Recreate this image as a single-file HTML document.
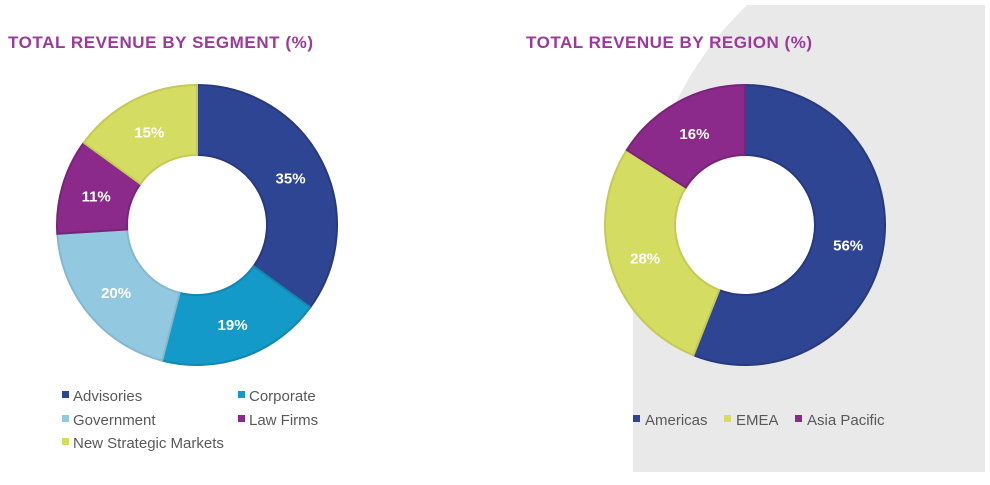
<!DOCTYPE html><html><head><style>
body{margin:0;background:#fff;width:990px;height:480px;overflow:hidden;font-family:"Liberation Sans",Arial,sans-serif}
</style></head><body>
<svg id="s" width="990" height="480" xmlns="http://www.w3.org/2000/svg" font-family="Liberation Sans, Arial, sans-serif">
<path d="M747,5 C690,60 633,150 633,310 L633,472 L985,472 L985,5 Z" fill="#e9e9e9"/>
<text x="8" y="48" font-size="17" font-weight="bold" fill="#9b3a9b" textLength="305">TOTAL REVENUE BY SEGMENT (%)</text>
<text x="526" y="48" font-size="17" font-weight="bold" fill="#9b3a9b" textLength="286">TOTAL REVENUE BY REGION (%)</text>
<g font-size="15" fill="#595959">
<rect x="62" y="391" width="7" height="7" fill="#2e4593"/><text x="73" y="401">Advisories</text>
<rect x="238" y="391" width="7" height="7" fill="#139ac8"/><text x="249" y="401">Corporate</text>
<rect x="62" y="415" width="7" height="7" fill="#92c9e0"/><text x="73" y="425">Government</text>
<rect x="238" y="415" width="7" height="7" fill="#8b2a8b"/><text x="249" y="425">Law Firms</text>
<rect x="62" y="438" width="7" height="7" fill="#d5dc62"/><text x="73" y="448">New Strategic Markets</text>
<rect x="633" y="415" width="7" height="7" fill="#2e4593"/><text x="645" y="425">Americas</text>
<rect x="724" y="415" width="7" height="7" fill="#d5dc62"/><text x="736" y="425">EMEA</text>
<rect x="795" y="415" width="7" height="7" fill="#8b2a8b"/><text x="807" y="425">Asia Pacific</text>
</g>
<circle cx="745" cy="225" r="71" fill="#fff"/>
<g id="d"></g>
</svg>
<script>
var g=document.getElementById('d'),ns='http://www.w3.org/2000/svg';
function donut(cx,cy,R,r,data){var a=0;data.forEach(function(d){var a0=a/100*2*Math.PI,a1=(a+d[0])/100*2*Math.PI;a+=d[0];
function p(rad,t){return [cx+rad*Math.sin(t),cy-rad*Math.cos(t)];}
var l=(a1-a0)>Math.PI?1:0,A=p(R,a0),B=p(R,a1),C=p(r,a1),D=p(r,a0);
var e=document.createElementNS(ns,'path');
e.setAttribute('d','M'+A+' A'+R+','+R+' 0 '+l+' 1 '+B+' L'+C+' A'+r+','+r+' 0 '+l+' 0 '+D+'Z');
e.setAttribute('fill',d[1]);e.setAttribute('stroke',d[2]);e.setAttribute('stroke-width','2');g.appendChild(e);
var m=p((R+r)/2,(a0+a1)/2),t=document.createElementNS(ns,'text');
t.setAttribute('x',m[0]);t.setAttribute('y',m[1]+6);t.setAttribute('text-anchor','middle');t.setAttribute('fill','#fff');
t.setAttribute('font-size','15');t.setAttribute('font-weight','bold');t.textContent=d[0]+'%';g.appendChild(t);});}
donut(197,225,140,70,[[35,'#2e4593','#28397d'],[19,'#139ac8','#1287b0'],[20,'#92c9e0','#84b8cf'],[11,'#8b2a8b','#7a2479'],[15,'#d5dc62','#c3ca55']]);
donut(745,225,140,70,[[56,'#2e4593','#28397d'],[28,'#d5dc62','#c3ca55'],[16,'#8b2a8b','#7a2479']]);
</script>
</body></html>
